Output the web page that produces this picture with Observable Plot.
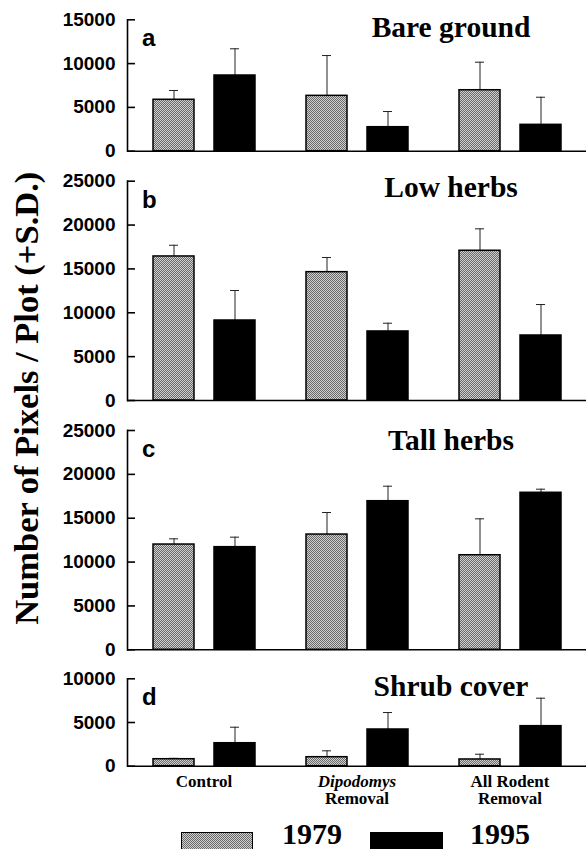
<!DOCTYPE html>
<html><head><meta charset="utf-8">
<script src="https://cdn.jsdelivr.net/npm/d3@7"></script>
<script src="https://cdn.jsdelivr.net/npm/@observablehq/plot@0.6"></script>
<style>
html,body{margin:0;padding:0;background:#fff;}
#root{position:relative;width:587px;height:849px;overflow:hidden;background:#fff;}
.panel{position:absolute;left:0;}
.serif{font-family:"Liberation Serif","Times New Roman",serif;font-weight:bold;color:#000;}
</style></head><body><div id="root"></div>
<script>
// ---- data ----
const treatments = ["Control", "Dipodomys Removal", "All Rodent Removal"];
const years = ["1979", "1995"];
const labelLine1 = ["Control", "Dipodomys", "All Rodent"];
const labelLine2 = ["", "Removal", "Removal"];
const labelItalic = [false, true, false];

const panelLetters = ["a", "b", "c", "d"];
const panelTitles = ["Bare ground", "Low herbs", "Tall herbs", "Shrub cover"];

const bareMean1979 = [5870, 6320, 6960];
const bareSD1979   = [1060, 4600, 3200];
const bareMean1995 = [8640, 2740, 3010];
const bareSD1995   = [3050, 1790, 3150];

const lowMean1979 = [16420, 14630, 17070];
const lowSD1979   = [1280, 1670, 2500];
const lowMean1995 = [9120, 7870, 7410];
const lowSD1995   = [3420, 940, 3530];

const tallMean1979 = [12000, 13140, 10780];
const tallSD1979   = [650, 2510, 4150];
const tallMean1995 = [11700, 16940, 17900];
const tallSD1995   = [1140, 1710, 410];

const shrubMean1979 = [800, 1030, 770];
const shrubSD1979   = [100, 730, 600];
const shrubMean1995 = [2630, 4200, 4580];
const shrubSD1995   = [1830, 1940, 3200];

const ticksBare = [0, 5000, 10000, 15000];
const ticksLow = [0, 5000, 10000, 15000, 20000, 25000];
const ticksTall = [0, 5000, 10000, 15000, 20000, 25000];
const ticksShrub = [0, 5000, 10000];

const yTitle = "Number of Pixels / Plot (+S.D.)";
const legendYears = ["1979", "1995"];

// ---- layout ----
const SERIF = '"Liberation Serif","Times New Roman",serif';
const SANS = '"Liberation Sans",Arial,Helvetica,sans-serif';
const root = document.getElementById("root");

const panels = [
  {m79: bareMean1979, s79: bareSD1979, m95: bareMean1995, s95: bareSD1995, ticks: ticksBare,
   top: 0, height: 160, marginTop: 19.3, marginBottom: 9.3, titleDy: 16.7},
  {m79: lowMean1979, s79: lowSD1979, m95: lowMean1995, s95: lowSD1995, ticks: ticksLow,
   top: 160, height: 250, marginTop: 20.7, marginBottom: 10, titleDy: 16},
  {m79: tallMean1979, s79: tallSD1979, m95: tallMean1995, s95: tallSD1995, ticks: ticksTall,
   top: 410, height: 250, marginTop: 20, marginBottom: 10.7, titleDy: 19.5},
  {m79: shrubMean1979, s79: shrubSD1979, m95: shrubMean1995, s95: shrubSD1995, ticks: ticksShrub,
   top: 660, height: 150, marginTop: 18.3, marginBottom: 44.3, titleDy: 16.7}
];

panels.forEach((cfg, i) => {
  const rows = [];
  treatments.forEach((t, j) => {
    rows.push({treatment: t, year: years[0], mean: cfg.m79[j], sd: cfg.s79[j]});
    rows.push({treatment: t, year: years[1], mean: cfg.m95[j], sd: cfg.s95[j]});
  });
  const patId = "dots" + i;
  const marks = [
    Plot.ruleX(rows, {fx: "treatment", x: "year", y1: "mean", y2: d => d.mean + d.sd, stroke: "#222", strokeWidth: 1}),
    Plot.tickY(rows, {fx: "treatment", x: "year", y: d => d.mean + d.sd, stroke: "#222", strokeWidth: 1, insetLeft: 16, insetRight: 16}),
    Plot.barY(rows.filter(d => d.year === years[0]), {fx: "treatment", x: "year", y: "mean", fill: `url(#${patId})`, stroke: "black", strokeWidth: 1.5}),
    Plot.barY(rows.filter(d => d.year === years[1]), {fx: "treatment", x: "year", y: "mean", fill: "black", stroke: "black", strokeWidth: 1.5}),
    Plot.ruleY([0], {stroke: "black", strokeWidth: 1.6}),
    Plot.frame({anchor: "left", facetAnchor: "left", stroke: "black", strokeWidth: 1.6}),
    Plot.axisY({ticks: cfg.ticks, tickSize: -8, tickPadding: 20, tickFormat: d => String(d),
      fontSize: 19, fontWeight: "bold", fontFamily: SANS, fill: "black", stroke: "black", strokeWidth: 1.6}),
    Plot.text([panelLetters[i]], {fx: () => treatments[0], text: d => d, frameAnchor: "top-left", dx: 14.5, dy: 26.5,
      lineAnchor: "bottom", textAnchor: "start", fontSize: 24, fontWeight: "bold", fontFamily: SANS, fill: "black"}),
    Plot.text([panelTitles[i]], {fx: () => treatments[2], text: d => d, frameAnchor: "top", dx: -59, dy: cfg.titleDy,
      lineAnchor: "bottom", fontSize: 29.5, fontWeight: "bold", fontFamily: SERIF, fill: "black"})
  ];
  if (i === panels.length - 1) {
    const labelRows = treatments.map((t, j) => ({treatment: t, l1: labelLine1[j], l2: labelLine2[j], italic: labelItalic[j]}));
    marks.push(
      Plot.text(labelRows.filter(d => !d.italic), {fx: "treatment", text: "l1", frameAnchor: "bottom", dy: 20.3,
        lineAnchor: "bottom", fontSize: 17, fontWeight: "bold", fontFamily: SERIF, fill: "black"}),
      Plot.text(labelRows.filter(d => d.italic), {fx: "treatment", text: "l1", frameAnchor: "bottom", dy: 20.3,
        lineAnchor: "bottom", fontSize: 17, fontWeight: "bold", fontStyle: "italic", fontFamily: SERIF, fill: "black"}),
      Plot.text(labelRows, {fx: "treatment", text: "l2", frameAnchor: "bottom", dy: 37.5,
        lineAnchor: "bottom", fontSize: 17, fontWeight: "bold", fontFamily: SERIF, fill: "black"})
    );
  }
  const svg = Plot.plot({
    width: 587,
    height: cfg.height,
    marginLeft: 126,
    marginRight: 0,
    marginTop: cfg.marginTop,
    marginBottom: cfg.marginBottom,
    style: {background: "transparent", fontFamily: SANS, overflow: "visible"},
    fx: {domain: treatments, padding: 0, axis: null, label: null},
    x: {domain: years, paddingInner: 0.334, paddingOuter: 0.417, axis: null, label: null},
    y: {domain: [0, cfg.ticks[cfg.ticks.length - 1]], label: null},
    marks
  });
  svg.insertAdjacentHTML("afterbegin",
    `<defs><pattern id="${patId}" width="2" height="2" patternUnits="userSpaceOnUse">` +
    `<rect width="2" height="2" fill="#cfcfcf"/><rect width="1" height="1" fill="#6a6a6a"/>` +
    `<rect x="1" y="1" width="1" height="1" fill="#6a6a6a"/></pattern></defs>`);
  const div = document.createElement("div");
  div.className = "panel";
  div.style.top = cfg.top + "px";
  div.appendChild(svg);
  root.appendChild(div);
});

// rotated y-axis title
const yt = document.createElement("div");
yt.className = "serif";
yt.textContent = yTitle;
const W = 600, FS = 34.5;
Object.assign(yt.style, {position: "absolute", left: (25.5 - W / 2) + "px", top: (398.5 - FS / 2) + "px",
  width: W + "px", height: FS + "px", lineHeight: FS + "px", fontSize: FS + "px", textAlign: "center",
  transform: "rotate(-90deg)", transformOrigin: "50% 50%", whiteSpace: "nowrap"});
root.appendChild(yt);

// legend
const swatches = [
  {left: 181, width: 72, bg: "repeating-conic-gradient(#6a6a6a 0 25%, #cfcfcf 0 50%) 0 0 / 2px 2px"},
  {left: 370, width: 73, bg: "#000"}
];
const legendTextLeft = [282, 470];
legendYears.forEach((yr, k) => {
  const sw = document.createElement("div");
  Object.assign(sw.style, {position: "absolute", left: swatches[k].left + "px", top: "832px",
    width: swatches[k].width + "px", height: "22px", background: swatches[k].bg,
    border: "1.5px solid #000", boxSizing: "border-box"});
  root.appendChild(sw);
  const tx = document.createElement("div");
  tx.className = "serif";
  tx.textContent = yr;
  Object.assign(tx.style, {position: "absolute", left: legendTextLeft[k] + "px", top: "821px",
    fontSize: "30px", lineHeight: "26px", height: "26px", whiteSpace: "nowrap"});
  root.appendChild(tx);
});
</script></body></html>
